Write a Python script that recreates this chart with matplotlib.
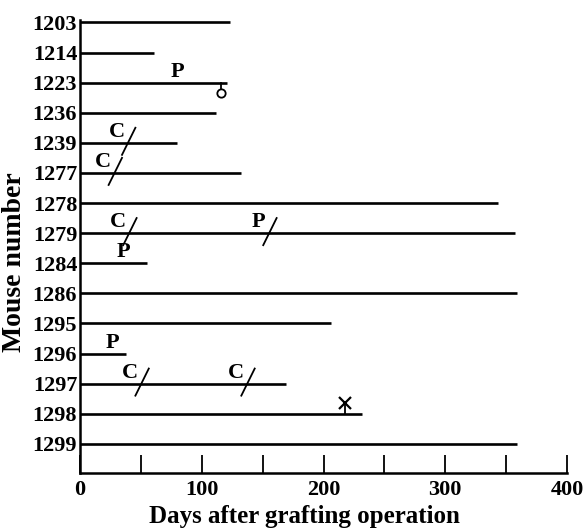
import matplotlib.pyplot as plt
from matplotlib.ticker import MultipleLocator

# mouse numbers, top to bottom
mice = [1203, 1214, 1223, 1236, 1239, 1277, 1278, 1279, 1284, 1286, 1295, 1296, 1297, 1298, 1299]
# days each graft was followed
end_days = [123, 61, 121, 112, 80, 132, 343, 357, 55, 359, 206, 38, 169, 232, 359]

# lettered events: mouse, letter, day, marked with a slash
ev_mouse = [1223, 1239, 1277, 1279, 1279, 1284, 1296, 1297, 1297]
ev_label = ["P", "C", "C", "C", "P", "P", "P", "C", "C"]
ev_day = [80, 40, 29, 41, 156, 36, 27, 51, 138]
ev_slash = [False, True, True, True, True, False, False, True, True]

# end symbols
circle_mouse, circle_day = 1223, 116
cross_mouse, cross_day = 1298, 218

plt.rcParams["font.family"] = ["Liberation Serif", "DejaVu Serif"]
plt.rcParams["font.weight"] = "bold"

fig = plt.figure(figsize=(5.86, 5.30), dpi=100)
ax = fig.add_axes([80 / 586, 1 - 473 / 530, 487 / 586, 453 / 530])

row = {m: i for i, m in enumerate(mice)}

for m, d in zip(mice, end_days):
    ax.plot([0, d], [row[m], row[m]], color="black", lw=1.9, solid_capstyle="butt")

for m, lab, d, sl in zip(ev_mouse, ev_label, ev_day, ev_slash):
    y = row[m]
    if sl:
        ax.plot([d - 5.5, d + 5.5], [y + 0.4, y - 0.5], color="black", lw=1.3)
        ax.annotate(lab, (d, y), xytext=(-12, 1), textcoords="offset pixels",
                    ha="center", va="bottom", fontsize=16, fontweight="bold")
    else:
        ax.annotate(lab, (d, y), xytext=(0, 1), textcoords="offset pixels",
                    ha="center", va="bottom", fontsize=16, fontweight="bold")

yc = row[circle_mouse]
ax.plot([circle_day, circle_day], [yc, yc + 0.2], color="black", lw=1.3)
ax.plot([circle_day], [yc + 0.34], marker="o", ms=6, mfc="white", mec="black", mew=1.3)

yx = row[cross_mouse]
ax.plot([cross_day, cross_day], [yx, yx - 0.35], color="black", lw=1.3)
ax.plot([cross_day], [yx - 0.35], marker="x", ms=8, mec="black", mew=1.6)

ax.set_xlim(0, 400)
ax.set_ylim(14.97, -0.08)
ax.set_yticks(range(len(mice)))
ax.set_yticklabels([str(m) for m in mice], fontsize=16, fontweight="bold")
ax.tick_params(axis="y", length=0, pad=2)

ax.xaxis.set_major_locator(MultipleLocator(100))
ax.xaxis.set_minor_locator(MultipleLocator(50))
ax.tick_params(axis="x", which="both", direction="in", length=13, width=1.3,
               labelsize=16, pad=5)
for t in ax.get_xticklabels():
    t.set_fontweight("bold")

for s in ["top", "right"]:
    ax.spines[s].set_visible(False)
for s in ["left", "bottom"]:
    ax.spines[s].set_linewidth(1.8)

ax.set_xlabel("Days after grafting operation", fontsize=18, fontweight="bold")
ax.set_ylabel("Mouse number", fontsize=20, fontweight="bold")
ax.xaxis.set_label_coords(0.46, -0.07)
ax.yaxis.set_label_coords(-0.108, 0.466)

fig.savefig("out.png", dpi=100)
